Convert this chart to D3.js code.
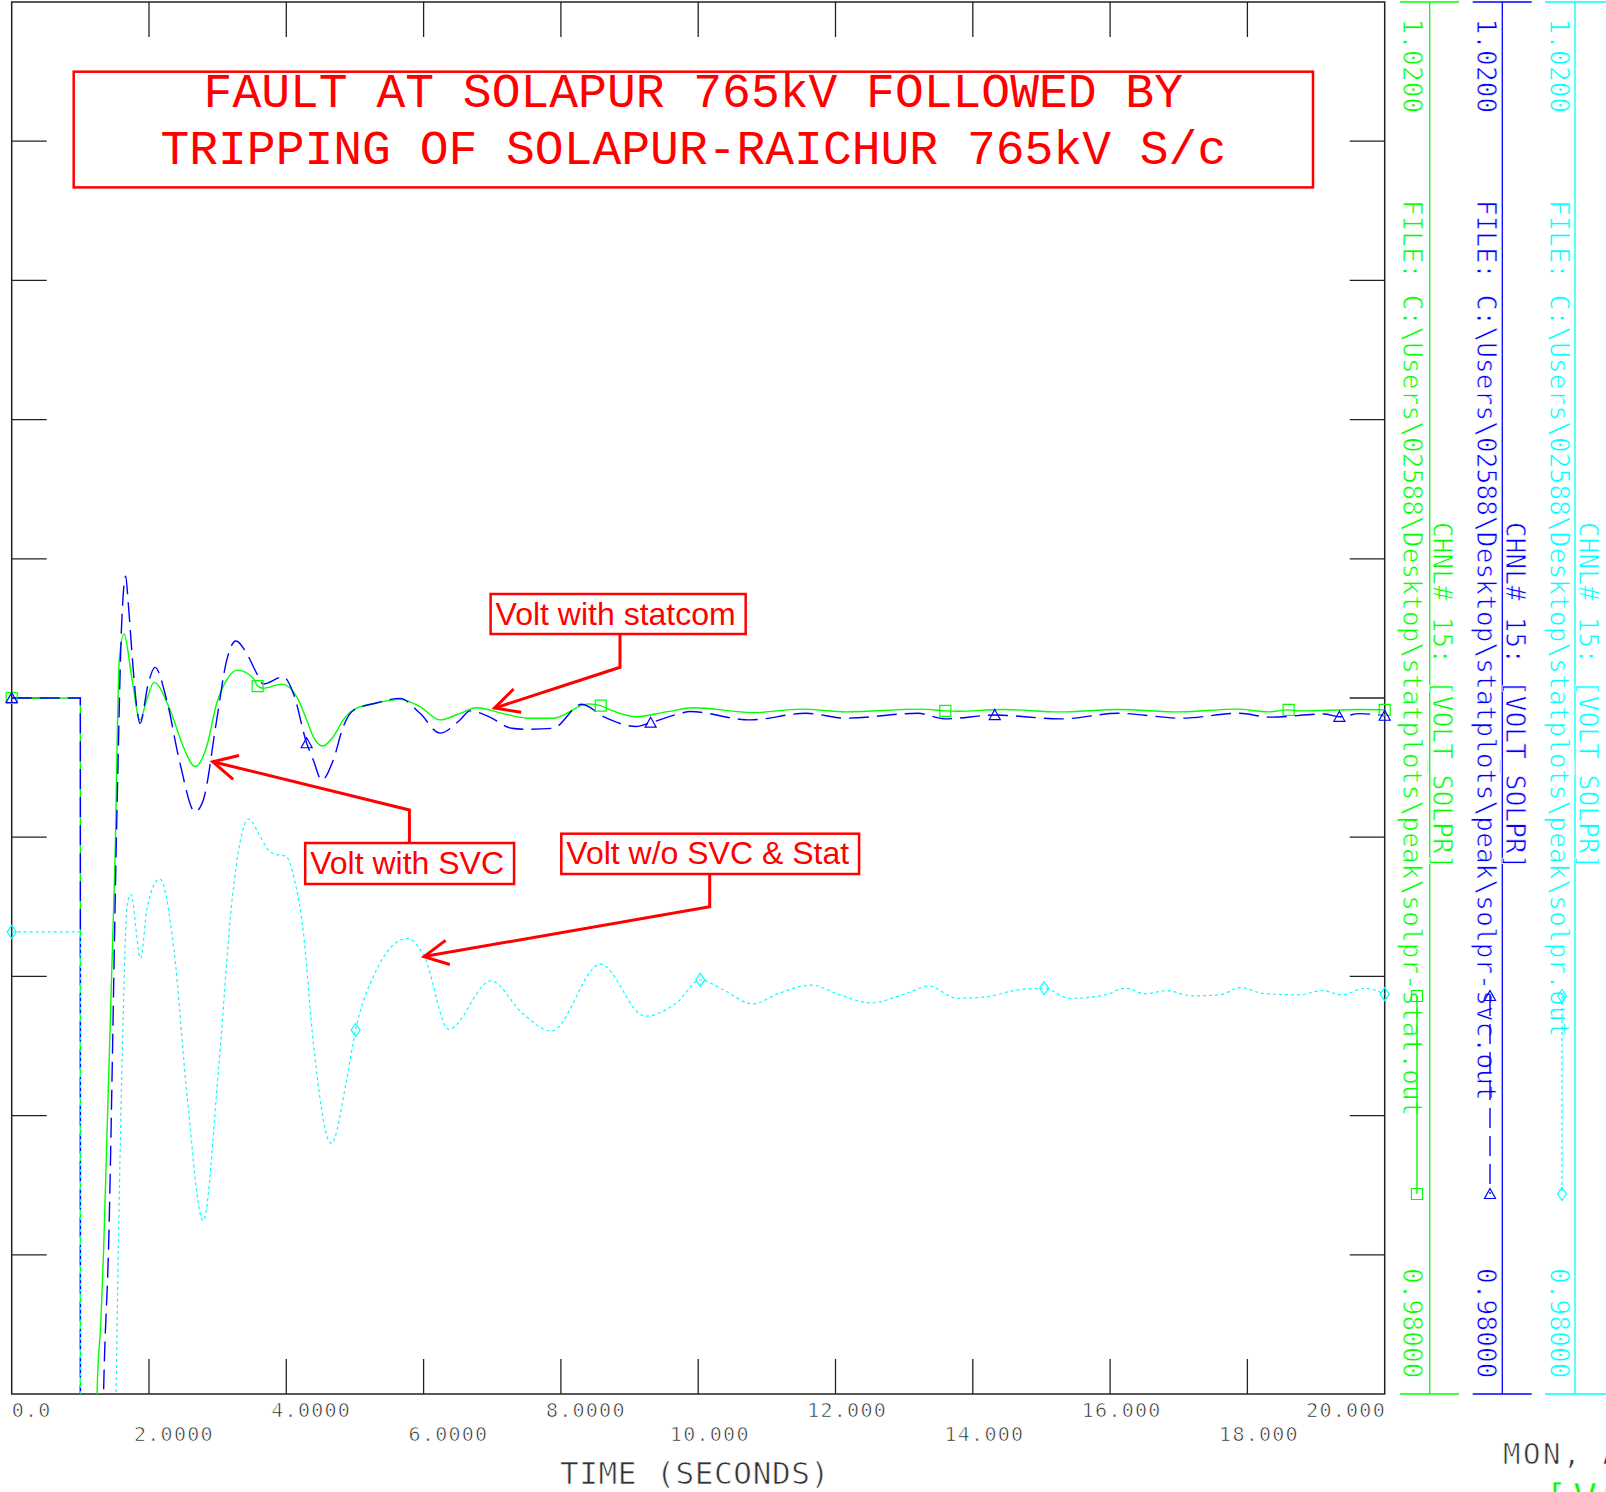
<!DOCTYPE html>
<html>
<head>
<meta charset="utf-8">
<script src="https://cdn.jsdelivr.net/npm/d3@7"></script>
<style>
  html, body { margin: 0; padding: 0; background: #fff; overflow: hidden; }
  svg { display: block; }
  /* plotter-style lettering: monospace glyphs with their stems trimmed */
  .mono { font-family: "DejaVu Sans Mono", monospace; stroke: #fff; stroke-width: 0.7px; }
  .note { font-family: "Liberation Sans", Arial, sans-serif; }
</style>
</head>
<body>
<svg id="chart" width="1606" height="1492"></svg>
<script>
// ---- time axis ----
const xTickValues = [0, 2, 4, 6, 8, 10, 12, 14, 16, 18, 20];
const xTickLabels = ["0.0", "2.0000", "4.0000", "6.0000", "8.0000", "10.000",
                     "12.000", "14.000", "16.000", "18.000", "20.000"];
const xAxisTitle = "TIME (SECONDS)";

// ---- voltage axis (same range for all three channels) ----
const yTickValues = [0.984, 0.988, 0.992, 0.996, 1.000, 1.004, 1.008, 1.012, 1.016];
const channelTop = "1.0200";
const channelBottom = "0.98000";
const channelName = "CHNL# 15: [VOLT_SOLPR]";

// ---- title ----
const titleLines = ["FAULT AT SOLAPUR 765kV FOLLOWED BY",
                    "TRIPPING OF SOLAPUR-RAICHUR 765kV S/c"];

// ---- bus voltage at Solapur 765 kV, [time (s), voltage (pu)] ----
const voltStatcom = [
  [0, 1.0], [1.0, 1.0], [1.002, 0.93], [1.10, 0.93], [1.243, 0.98], [1.30, 0.98213],
  [1.339, 0.98414], [1.505, 0.99534], [1.567, 1.00109], [1.636, 1.00184], [1.748, 1.00061],
  [1.869, 0.99937], [1.966, 0.99994], [2.073, 1.00045], [2.306, 0.99966], [2.50, 0.9986],
  [2.67, 0.99803], [2.84, 0.9986], [2.986, 0.99985], [3.132, 1.00052], [3.286, 1.0008],
  [3.519, 1.00057], [3.583, 1.00034], [3.665, 1.00028], [3.933, 1.0004], [4.151, 1.00004],
  [4.297, 0.99937], [4.393, 0.99889], [4.53, 0.99862], [4.685, 0.99889], [4.83, 0.99937],
  [4.976, 0.99966], [5.30, 0.99985], [5.656, 0.99996], [5.948, 0.99975], [6.239, 0.99937],
  [6.53, 0.99956], [6.771, 0.99972], [7.142, 0.99956], [7.515, 0.99942], [7.885, 0.99942],
  [8.40, 0.99983], [8.58, 0.99978], [8.716, 0.99966], [9.094, 0.99946], [9.558, 0.99961],
  [9.93, 0.99972], [10.79, 0.99958], [11.51, 0.99968], [12.15, 0.9996], [13.26, 0.99968],
  [13.60, 0.99963], [13.78, 0.99962], [14.43, 0.99967], [15.27, 0.9996], [16.12, 0.99967],
  [17.02, 0.9996], [17.85, 0.99968], [18.30, 0.9996], [18.60, 0.99966], [18.77, 0.99963],
  [19.63, 0.99967], [20.0, 0.99966]
];
const voltSvc = [
  [0, 1.0], [1.0, 1.0], [1.002, 0.93], [1.10, 0.93], [1.338, 0.98], [1.41, 0.98414],
  [1.534, 0.99678], [1.60, 1.00204], [1.661, 1.0035], [1.698, 1.00272], [1.771, 1.0008],
  [1.821, 0.99975], [1.869, 0.99927], [1.99, 1.00042], [2.087, 1.00088], [2.258, 0.99994],
  [2.452, 0.99812], [2.67, 0.99673], [2.791, 0.99707], [2.986, 0.99937], [3.132, 1.00109],
  [3.267, 1.00164], [3.423, 1.00128], [3.569, 1.00071], [3.665, 1.0004], [3.956, 1.00061],
  [4.102, 1.00014], [4.297, 0.9987], [4.393, 0.99822], [4.516, 0.99764], [4.685, 0.99822],
  [4.83, 0.99918], [4.976, 0.99964], [5.30, 0.99985], [5.656, 0.99999], [5.948, 0.99956],
  [6.239, 0.99899], [6.53, 0.99937], [6.676, 0.99963], [6.957, 0.99946], [7.282, 0.99913],
  [7.515, 0.9991], [7.885, 0.99913], [8.304, 0.99982], [8.628, 0.99946], [9.094, 0.99918],
  [9.307, 0.99929], [9.744, 0.99956], [9.88, 0.99961], [10.75, 0.99937], [11.57, 0.99956],
  [12.15, 0.99942], [13.2, 0.99956], [13.59, 0.9994], [14.32, 0.99951], [15.28, 0.9994],
  [16.12, 0.99956], [17.03, 0.99942], [17.88, 0.99956], [18.33, 0.99945], [19.12, 0.99954],
  [19.34, 0.99946], [19.63, 0.99955], [20.0, 0.99949]
];
const voltBase = [
  [0, 0.99328], [1.0, 0.99328], [1.002, 0.93], [1.10, 0.93], [1.52, 0.98], [1.553, 0.98414],
  [1.618, 0.99037], [1.682, 0.99405], [1.735, 0.99436], [1.878, 0.99252], [1.975, 0.994],
  [2.157, 0.9948], [2.364, 0.99276], [2.56, 0.98845], [2.788, 0.98498], [3.016, 0.98941],
  [3.21, 0.9942], [3.452, 0.99652], [3.60, 0.9961], [3.73, 0.99565], [3.85, 0.9955],
  [3.99, 0.99546], [4.12, 0.99477], [4.25, 0.99324], [4.38, 0.99036], [4.655, 0.9872],
  [4.87, 0.98893], [5.01, 0.99046], [5.29, 0.99209], [5.76, 0.99309], [6.01, 0.99257],
  [6.366, 0.99048], [6.98, 0.99187], [7.44, 0.99094], [7.86, 0.99043], [8.575, 0.99235],
  [9.225, 0.99086], [9.68, 0.99123], [10.03, 0.9919], [10.35, 0.99163], [10.80, 0.99121],
  [11.17, 0.99151], [11.65, 0.99175], [12.06, 0.99147], [12.51, 0.99124], [13.03, 0.99151],
  [13.36, 0.99172], [13.77, 0.99137], [14.22, 0.99142], [14.59, 0.99159], [15.04, 0.99166],
  [15.41, 0.99137], [15.93, 0.99147], [16.22, 0.99166], [16.52, 0.9915], [16.82, 0.99159],
  [17.19, 0.99144], [17.60, 0.99147], [17.90, 0.99168], [18.23, 0.99151], [18.75, 0.99147],
  [19.09, 0.99159], [19.38, 0.99147], [19.71, 0.99166], [20.0, 0.99149]
];

// times at which the plot symbols sit on each trace
const markTimesStatcom = [0, 3.583, 8.58, 13.60, 18.60, 20];
const markTimesSvc = [0, 4.297, 9.307, 14.32, 19.34, 20];
const markTimesBase = [0, 5.01, 10.03, 15.04, 20];

// source files of the three runs
const fileStatcom = "FILE: C:\\Users\\02588\\Desktop\\statplots\\peak\\solpr-stat.out";
const fileSvc = "FILE: C:\\Users\\02588\\Desktop\\statplots\\peak\\solpr-svc.out";
const fileBase = "FILE: C:\\Users\\02588\\Desktop\\statplots\\peak\\solpr.out";

// callout texts and the points they point at [time, pu]
const noteLabels = ["Volt with statcom", "Volt with SVC", "Volt w/o SVC & Stat"];
const noteTips = [[7.033, 0.99971], [2.928, 0.99817], [6.006, 0.99257]];

const dateText = "MON, A";
const channelFooter = "[VOLT_SOLPR]";

// ------------------------------------------------------------------
const GREEN = "#00ff00", BLUE = "#0000ff", CYAN = "#00ffff", RED = "#ff0000", INK = "#222";

const svg = d3.select("#chart");
const plot = { left: 11.7, right: 1384.7, top: 2, bottom: 1394 };

const x = d3.scaleLinear().domain([0, 20]).range([plot.left, plot.right]);
const y = d3.scaleLinear().domain([0.98, 1.02]).range([plot.bottom, plot.top]);

svg.append("defs").append("clipPath").attr("id", "plotClip")
  .append("rect")
  .attr("x", plot.left).attr("y", plot.top)
  .attr("width", plot.right - plot.left).attr("height", plot.bottom - plot.top);

// frame
svg.append("rect")
  .attr("x", plot.left).attr("y", plot.top)
  .attr("width", plot.right - plot.left).attr("height", plot.bottom - plot.top)
  .attr("fill", "none").attr("stroke", INK).attr("stroke-width", 1.5);

// inward ticks on all four sides
const tickLen = 35;
const innerX = xTickValues.filter(v => v > 0 && v < 20);
const ticks = svg.append("g").attr("stroke", INK).attr("stroke-width", 1.3);
innerX.forEach(v => {
  ticks.append("line").attr("x1", x(v)).attr("x2", x(v)).attr("y1", plot.top).attr("y2", plot.top + tickLen);
  ticks.append("line").attr("x1", x(v)).attr("x2", x(v)).attr("y1", plot.bottom - tickLen).attr("y2", plot.bottom);
});
yTickValues.forEach(v => {
  ticks.append("line").attr("y1", y(v)).attr("y2", y(v)).attr("x1", plot.left).attr("x2", plot.left + tickLen);
  ticks.append("line").attr("y1", y(v)).attr("y2", y(v)).attr("x1", plot.right - tickLen).attr("x2", plot.right);
});

// time tick labels, alternating rows, decimal point over the tick
const pitch = 13.3;
xTickValues.forEach((v, i) => {
  const label = xTickLabels[i];
  const row = i % 2;
  const dot = label.indexOf(".");
  const t = svg.append("text").attr("class", "mono")
    .attr("font-size", 20).attr("letter-spacing", 1.26).attr("fill", INK)
    .attr("y", row === 0 ? 1417 : 1441).text(label);
  const w = label.length * pitch - 1.26;
  let left = x(v) - 15 - (dot - 1) * pitch;
  left = Math.max(plot.left, Math.min(plot.right - w, left));
  t.attr("x", left);
});

svg.append("text").attr("class", "mono")
  .attr("x", 560).attr("y", 1484).attr("font-size", 31).attr("letter-spacing", 0.6).attr("fill", "#333")
  .text(xAxisTitle);

// ---- traces ----
const line = d3.line().x(d => x(d[0])).y(d => y(d[1])).curve(d3.curveMonotoneX);
const traces = svg.append("g").attr("clip-path", "url(#plotClip)").attr("fill", "none");

const series = [
  { data: voltStatcom, color: GREEN, dash: null, width: 1.4, marks: markTimesStatcom, sym: "square",
    file: fileStatcom, axisX: 1429.7, capL: 1400, capR: 1459, textX: 1403, chnlX: 1433.3, legendX: 1417 },
  { data: voltSvc, color: BLUE, dash: "20,8", width: 1.4, marks: markTimesSvc, sym: "triangle",
    file: fileSvc, axisX: 1502.3, capL: 1472.7, capR: 1531.7, textX: 1476.7, chnlX: 1506, legendX: 1490 },
  { data: voltBase, color: CYAN, dash: "3,3", width: 1.2, marks: markTimesBase, sym: "diamond",
    file: fileBase, axisX: 1575, capL: 1545, capR: 1606, textX: 1550, chnlX: 1579.3, legendX: 1562 }
];

series.forEach(s => {
  traces.append("path").attr("d", line(s.data))
    .attr("stroke", s.color).attr("stroke-width", s.width)
    .attr("stroke-dasharray", s.dash);
});

function symbolPath(kind) {
  if (kind === "square") return "M-5.5,-5.5H5.5V5.5H-5.5Z";
  if (kind === "triangle") return "M0,-5.5L5.5,4.5H-5.5Z";
  return "M0,-6.5L4.5,0L0,6.5L-4.5,0Z";
}
function valueAt(data, t) {
  const i = d3.bisector(d => d[0]).left(data, t);
  if (i <= 0) return data[0][1];
  if (i >= data.length) return data[data.length - 1][1];
  const a = data[i - 1], b = data[i];
  if (b[0] === t) return b[1];
  return a[1] + (b[1] - a[1]) * (t - a[0]) / (b[0] - a[0]);
}

series.forEach(s => {
  svg.append("g").selectAll("path").data(s.marks).join("path")
    .attr("d", symbolPath(s.sym))
    .attr("transform", t => `translate(${x(t)},${y(valueAt(s.data, t))})`)
    .attr("fill", "none").attr("stroke", s.color).attr("stroke-width", 1.2);
});

// ---- channel strips on the right ----
series.forEach(s => {
  const g = svg.append("g");
  g.append("line").attr("x1", s.axisX).attr("x2", s.axisX).attr("y1", plot.top).attr("y2", plot.bottom)
    .attr("stroke", s.color).attr("stroke-width", 1.3);
  [plot.top, plot.bottom].forEach(yy => {
    g.append("line").attr("x1", s.capL).attr("x2", s.capR).attr("y1", yy).attr("y2", yy)
      .attr("stroke", s.color).attr("stroke-width", 1.5);
  });
  const vtext = (tx, ty, str) => g.append("text").attr("class", "mono")
    .attr("font-size", 26).attr("letter-spacing", 0.15).attr("fill", s.color)
    .attr("transform", `translate(${tx},${ty}) rotate(90)`).text(str);
  vtext(s.textX, 18.5, channelTop);
  vtext(s.textX, 200, s.file);
  vtext(s.chnlX, 522, channelName);
  vtext(s.textX, 1268, channelBottom);

  // legend sample of the trace style
  g.append("line").attr("x1", s.legendX).attr("x2", s.legendX).attr("y1", 996).attr("y2", 1194)
    .attr("stroke", s.color).attr("stroke-width", s.width).attr("stroke-dasharray", s.dash);
  [996, 1194].forEach(yy => {
    g.append("path").attr("d", symbolPath(s.sym)).attr("transform", `translate(${s.legendX},${yy})`)
      .attr("fill", "none").attr("stroke", s.color).attr("stroke-width", 1.2);
  });
});

svg.append("text").attr("class", "mono").attr("x", 1503).attr("y", 1464)
  .attr("font-size", 29).attr("letter-spacing", 2.5).attr("fill", "#333").text(dateText);
svg.append("text").attr("class", "mono").attr("x", 1544).attr("y", 1513)
  .attr("font-size", 40).attr("letter-spacing", 5).attr("fill", GREEN).text(channelFooter);

// ---- title box ----
const title = svg.append("g");
title.append("rect").attr("x", 73.7).attr("y", 71.7).attr("width", 1239.3).attr("height", 115.7)
  .attr("fill", "#fff").attr("stroke", RED).attr("stroke-width", 2.5);
titleLines.forEach((str, i) => {
  title.append("text").attr("x", 693.3).attr("y", i === 0 ? 107.3 : 164.3)
    .attr("text-anchor", "middle").attr("font-family", "'Liberation Mono', 'Courier New', monospace")
    .attr("font-size", 48).attr("fill", RED).text(str);
});

// ---- callouts ----
const noteBoxes = [
  { x: 490.6, y: 594, h: 40, elbowX: 620, elbowY: 667.3, fromBottom: true },
  { x: 305.2, y: 843, h: 41, elbowX: 409.4, elbowY: 810, fromBottom: false },
  { x: 561.3, y: 833.7, h: 40.3, elbowX: 709.7, elbowY: 906.7, fromBottom: true }
];
noteLabels.forEach((label, i) => {
  const b = noteBoxes[i];
  const g = svg.append("g");
  const rect = g.append("rect").attr("x", b.x).attr("y", b.y).attr("height", b.h)
    .attr("fill", "#fff").attr("stroke", RED).attr("stroke-width", 2.5);
  const txt = g.append("text").attr("class", "note").attr("x", b.x + 5).attr("y", b.y + b.h / 2 + 10.5)
    .attr("font-size", 32).attr("fill", RED).text(label);
  const w = txt.node().getComputedTextLength();
  rect.attr("width", w + 15);

  const tipX = x(noteTips[i][0]), tipY = y(noteTips[i][1]);
  const startY = b.fromBottom ? b.y + b.h : b.y;
  g.append("path")
    .attr("d", `M${b.elbowX},${startY}L${b.elbowX},${b.elbowY}L${tipX},${tipY}`)
    .attr("fill", "none").attr("stroke", RED).attr("stroke-width", 3).attr("stroke-linejoin", "miter");
  const ang = Math.atan2(b.elbowY - tipY, b.elbowX - tipX);
  const len = 27, spread = 27 * Math.PI / 180;
  const p1 = [tipX + len * Math.cos(ang - spread), tipY + len * Math.sin(ang - spread)];
  const p2 = [tipX + len * Math.cos(ang + spread), tipY + len * Math.sin(ang + spread)];
  g.append("path").attr("d", `M${p1[0]},${p1[1]}L${tipX},${tipY}L${p2[0]},${p2[1]}`)
    .attr("fill", "none").attr("stroke", RED).attr("stroke-width", 3);
});
</script>
</body>
</html>
